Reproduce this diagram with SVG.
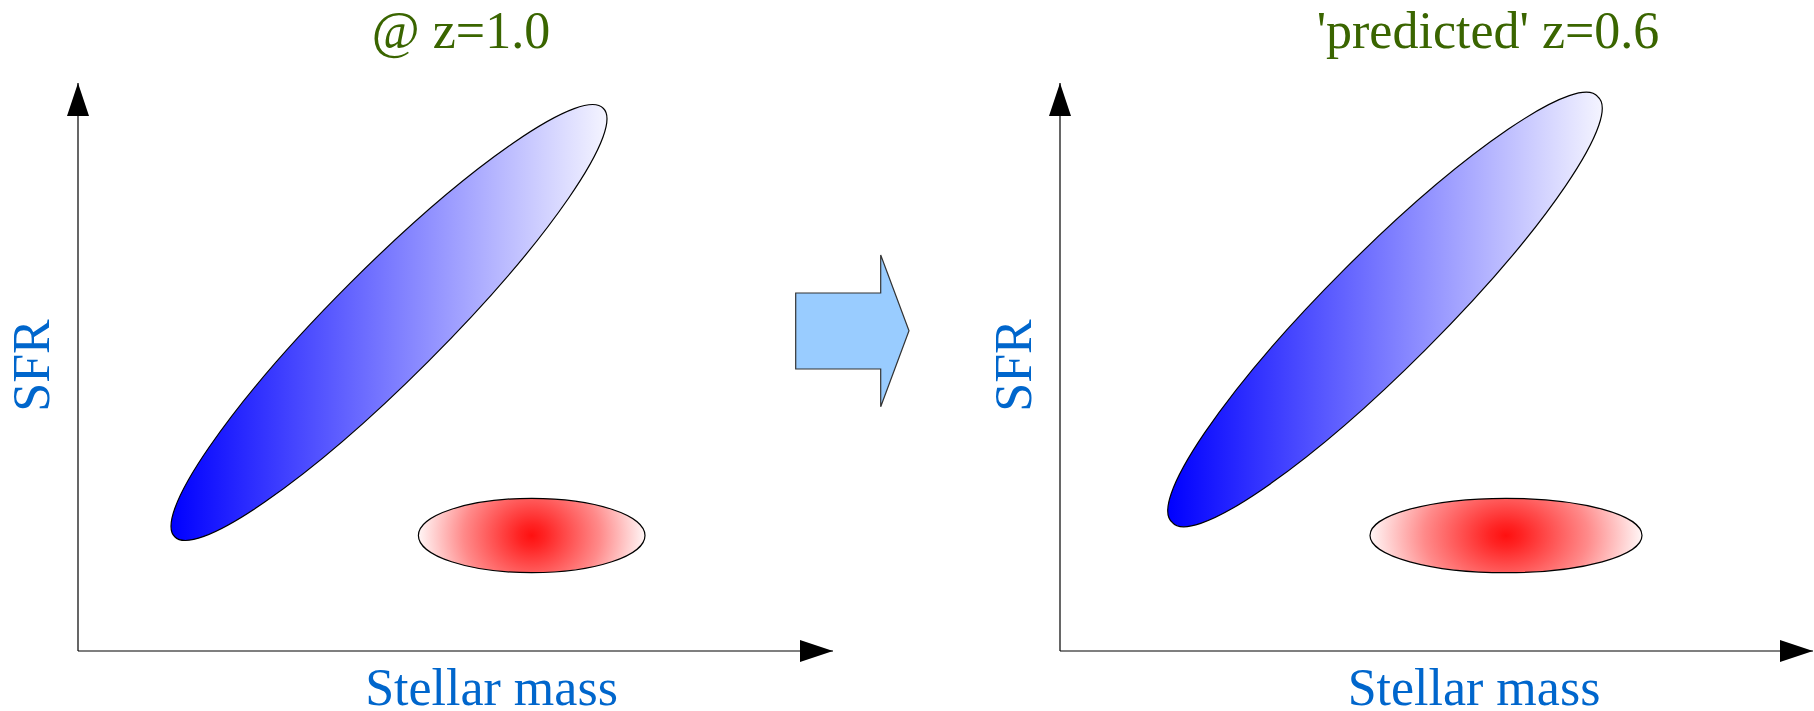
<svg xmlns="http://www.w3.org/2000/svg" width="1814" height="711" viewBox="0 0 1814 711">
<style>
.title{font-family:"Liberation Serif","Times New Roman",serif;font-size:52px;fill:#3a6500;text-anchor:middle}
.label{font-family:"Liberation Serif","Times New Roman",serif;font-size:52px;fill:#0066cc;text-anchor:middle}
.axis{stroke:#000;stroke-width:1.2;fill:none}
.blob{stroke:#000;stroke-width:1.2}
</style>
<defs>
<marker id="arr" markerUnits="userSpaceOnUse" markerWidth="34" markerHeight="22" refX="33" refY="11" orient="auto">
<path d="M0,0 L33,11 L0,22 Z" fill="#000"/>
</marker>
<linearGradient id="blueL" gradientUnits="userSpaceOnUse" x1="171" y1="0" x2="607" y2="0">
<stop offset="0" stop-color="#0000ff"/>
<stop offset="1" stop-color="#f4f4ff"/>
</linearGradient>
<linearGradient id="blueR" gradientUnits="userSpaceOnUse" x1="1168" y1="0" x2="1602" y2="0">
<stop offset="0" stop-color="#0000ff"/>
<stop offset="1" stop-color="#f4f4ff"/>
</linearGradient>
<radialGradient id="red" cx="0.5" cy="0.5" r="0.5" gradientTransform="translate(0.5 0.5) scale(1 2.6) translate(-0.5 -0.5)">
<stop offset="0" stop-color="#ff1010"/>
<stop offset="0.12" stop-color="#ff2424"/>
<stop offset="0.6" stop-color="#ff8a8a"/>
<stop offset="1" stop-color="#fff6f6"/>
</radialGradient>
</defs>
<g id="connectors">
<line class="axis" x1="78" y1="651" x2="78" y2="83" marker-end="url(#arr)"/>
<line class="axis" x1="78" y1="651" x2="833" y2="651" marker-end="url(#arr)"/>
<line class="axis" x1="1060" y1="651" x2="1060" y2="83" marker-end="url(#arr)"/>
<line class="axis" x1="1060" y1="651" x2="1813" y2="651" marker-end="url(#arr)"/>
</g>
<g id="left-title"><text class="title" x="461" y="48">@ z=1.0</text></g>
<g id="right-title"><text class="title" x="1488" y="48">'predicted' z=0.6</text></g>
<g id="left-sfr"><text class="label" transform="translate(49 365.5) rotate(-90)">SFR</text></g>
<g id="right-sfr"><text class="label" transform="translate(1031 365.5) rotate(-90)">SFR</text></g>
<g id="left-mass"><text class="label" x="491.5" y="705">Stellar mass</text></g>
<g id="right-mass"><text class="label" x="1474" y="705">Stellar mass</text></g>
<g id="left-blue">
<path class="blob" fill="url(#blueL)" d="M174.75,536.75 A303,55 -45 1 0 603.25,108.25 A303,55 -45 1 0 174.75,536.75 Z"/>
</g>
<g id="left-red">
<ellipse class="blob" fill="url(#red)" cx="531.7" cy="535.5" rx="113.3" ry="37.2"/>
</g>
<g id="block-arrow">
<polygon points="795.7,293 880.7,293 880.7,255 909,330.7 880.7,406.7 880.7,369 795.7,369" fill="#99ccff" stroke="#333" stroke-width="1.2"/>
</g>
<g id="right-blue">
<path class="blob" fill="url(#blueR)" d="M1172.2,522.3 A301,56 -45 1 0 1597.8,96.7 A301,56 -45 1 0 1172.2,522.3 Z"/>
</g>
<g id="right-red">
<ellipse class="blob" fill="url(#red)" cx="1506" cy="535.5" rx="136" ry="37.2"/>
</g>
</svg>
